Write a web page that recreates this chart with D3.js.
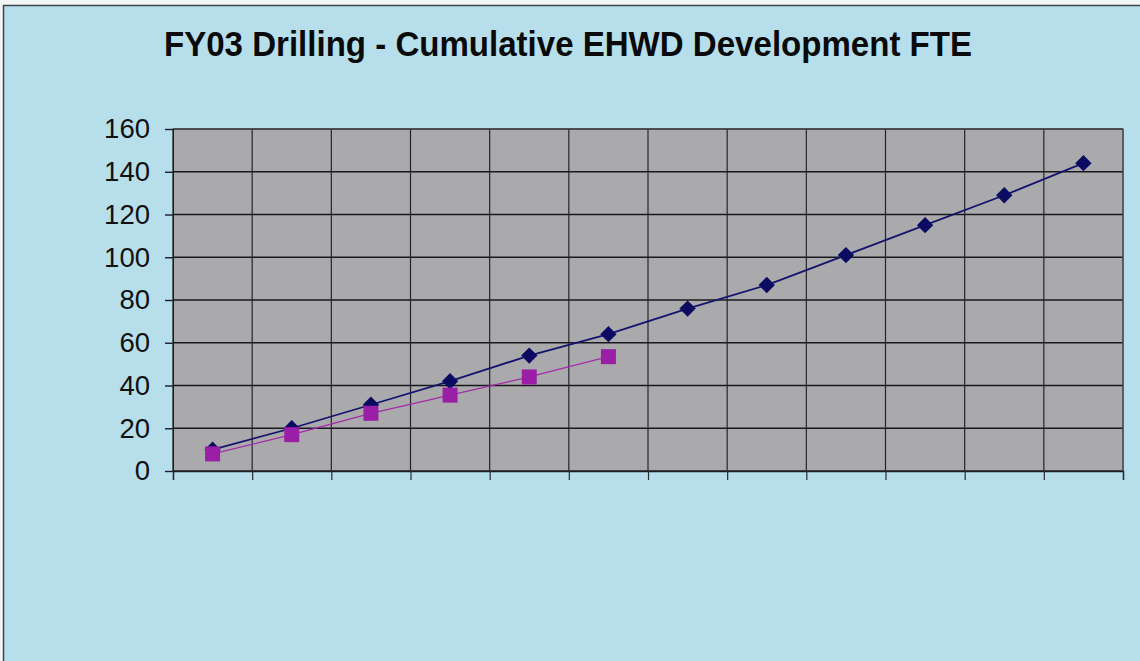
<!DOCTYPE html>
<html>
<head>
<meta charset="utf-8">
<script src="https://cdn.jsdelivr.net/npm/d3@7"></script>
<style>
  html, body { margin: 0; padding: 0; background: #f4f6f6; }
  svg { display: block; }
</style>
</head>
<body>
<svg id="chart" width="1140" height="661"></svg>
<script>
// Fiscal-year months (Oct–Sep); the category axis is drawn without labels
const categories = ["Oct", "Nov", "Dec", "Jan", "Feb", "Mar", "Apr", "May", "Jun", "Jul", "Aug", "Sep"];
// Planned cumulative FTE
const planValues = [10, 20, 31, 42, 54, 64, 76, 87, 101, 115, 129, 144];
// Actual cumulative FTE to date
const actualValues = [8, 17, 27, 35.5, 44, 53.5];
const yTicks = [0, 20, 40, 60, 80, 100, 120, 140, 160];

const svg = d3.select("#chart");
const W = 1140, H = 661;
const plot = { left: 173, right: 1123, top: 129, bottom: 471 };

// Page background with the thin frame on top and left
svg.append("rect").attr("x", 3).attr("y", 5).attr("width", W - 3).attr("height", H - 5)
  .attr("fill", "#b7dfeb");
svg.append("line").attr("x1", 3).attr("x2", W).attr("y1", 5.5).attr("y2", 5.5)
  .attr("stroke", "#3a4448").attr("stroke-width", 1.5);
svg.append("line").attr("x1", 3.5).attr("x2", 3.5).attr("y1", 5).attr("y2", H)
  .attr("stroke", "#3a4448").attr("stroke-width", 1.5);

// Title (slightly condensed bold sans)
svg.append("text")
  .attr("x", 568).attr("y", 56)
  .attr("text-anchor", "middle")
  .attr("font-family", "Liberation Sans, Arial, sans-serif")
  .attr("font-weight", "bold")
  .attr("font-size", 35)
  .attr("textLength", 808)
  .attr("lengthAdjust", "spacingAndGlyphs")
  .attr("fill", "#0a0a0a")
  .text("FY03 Drilling - Cumulative EHWD Development FTE");

const x = d3.scaleBand().domain(categories).range([plot.left, plot.right]);
const y = d3.scaleLinear().domain([0, 160]).range([plot.bottom, plot.top]);

// Plot area
svg.append("rect")
  .attr("x", plot.left).attr("y", plot.top)
  .attr("width", plot.right - plot.left).attr("height", plot.bottom - plot.top)
  .attr("fill", "#aaaaad");

// Horizontal gridlines
svg.append("g").selectAll("line").data(yTicks).join("line")
  .attr("x1", plot.left).attr("x2", plot.right)
  .attr("y1", d => y(d)).attr("y2", d => y(d))
  .attr("stroke", "#18181e").attr("stroke-width", 1.4);

// Vertical gridlines at category boundaries
const bounds = categories.map(c => x(c)).concat([plot.right]);
svg.append("g").selectAll("line").data(bounds).join("line")
  .attr("x1", d => d).attr("x2", d => d)
  .attr("y1", plot.top).attr("y2", plot.bottom)
  .attr("stroke", "#24242c").attr("stroke-width", 1.2);

// Plot border
svg.append("rect")
  .attr("x", plot.left).attr("y", plot.top)
  .attr("width", plot.right - plot.left).attr("height", plot.bottom - plot.top)
  .attr("fill", "none").attr("stroke", "#55555c").attr("stroke-width", 1);

// Y axis
const yAxis = svg.append("g")
  .attr("transform", `translate(${plot.left},0)`)
  .call(d3.axisLeft(y).tickValues(yTicks).tickSize(8).tickPadding(15));
yAxis.select(".domain").attr("stroke", "#1c1c22");
yAxis.selectAll(".tick line").attr("stroke", "#1c1c22").attr("stroke-width", 1.4);
yAxis.selectAll(".tick text")
  .attr("font-family", "Liberation Sans, Arial, sans-serif")
  .attr("font-size", 27.5)
  .attr("fill", "#111");

// X axis: ticks at category boundaries, no labels
const xAxis = svg.append("g")
  .attr("transform", `translate(0,${plot.bottom})`)
  .call(d3.axisBottom(d3.scaleLinear().domain([0, categories.length]).range([plot.left, plot.right]))
    .ticks(categories.length).tickSize(9).tickFormat(""));
xAxis.select(".domain").attr("stroke", "#1c1c22").attr("stroke-width", 1.4);
xAxis.selectAll(".tick line").attr("stroke", "#2a2a32").attr("stroke-width", 1.2);

const cx = (d, i) => x(categories[i]) + x.bandwidth() / 2;
const line = d3.line().x((d, i) => cx(d, i)).y(d => y(d));

// Plan series: navy line with diamonds
svg.append("path").datum(planValues)
  .attr("d", line).attr("fill", "none")
  .attr("stroke", "#14146e").attr("stroke-width", 1.8);
svg.append("g").selectAll("path").data(planValues).join("path")
  .attr("d", d3.symbol(d3.symbolDiamond2, 170))
  .attr("transform", (d, i) => `translate(${cx(d, i)},${y(d)})`)
  .attr("fill", "#0b0b62");

// Actual series: magenta line with squares
svg.append("path").datum(actualValues)
  .attr("d", line).attr("fill", "none")
  .attr("stroke", "#a42aa8").attr("stroke-width", 1.3);
svg.append("g").selectAll("rect").data(actualValues).join("rect")
  .attr("x", (d, i) => cx(d, i) - 7.5).attr("y", d => y(d) - 7.5)
  .attr("width", 15).attr("height", 15)
  .attr("fill", "#9a1fa6");
</script>
</body>
</html>
